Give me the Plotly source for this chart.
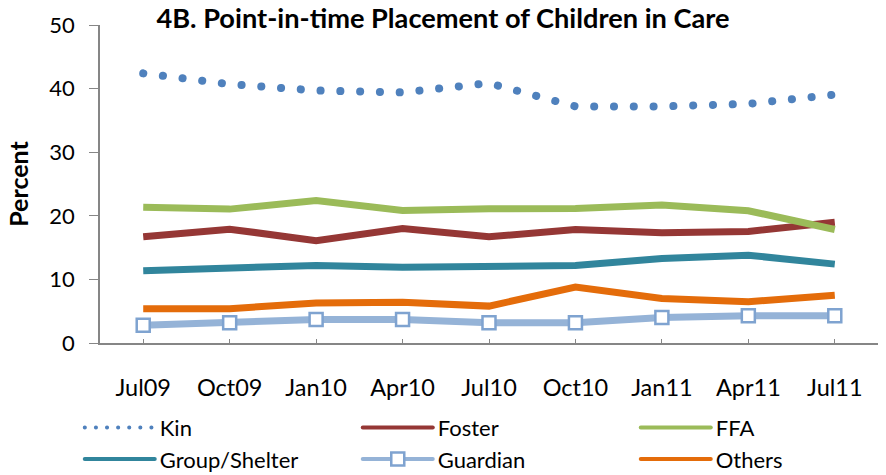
import plotly.graph_objects as go

# Quarterly snapshot dates
quarters = ["Jul09", "Oct09", "Jan10", "Apr10", "Jul10", "Oct10", "Jan11", "Apr11", "Jul11"]

# Percent of children in care by placement type
kin = [42.4, 40.7, 39.7, 39.4, 40.85, 37.2, 37.2, 37.6, 39.05]
foster = [16.7, 17.9, 16.1, 18.0, 16.7, 17.85, 17.35, 17.55, 19.0]
ffa = [21.35, 21.05, 22.4, 20.85, 21.1, 21.15, 21.7, 20.8, 17.85]
group_shelter = [11.35, 11.9, 12.2, 11.9, 12.1, 12.2, 13.3, 13.8, 12.4]
guardian = [2.8, 3.2, 3.7, 3.7, 3.2, 3.2, 4.0, 4.3, 4.3]
others = [5.4, 5.4, 6.3, 6.4, 5.8, 8.8, 7.0, 6.5, 7.5]

FONT = "Lato"
LW = 7

fig = go.Figure()
fig.add_trace(go.Scatter(x=quarters, y=kin, name="Kin", mode="lines",
                         line=dict(color="#4F81BD", width=8, dash="8px,11.7px")))
fig.add_trace(go.Scatter(x=quarters, y=foster, name="Foster", mode="lines",
                         line=dict(color="#953735", width=LW)))
fig.add_trace(go.Scatter(x=quarters, y=ffa, name="FFA", mode="lines",
                         line=dict(color="#9BBB59", width=LW)))
fig.add_trace(go.Scatter(x=quarters, y=group_shelter, name="Group/Shelter", mode="lines",
                         line=dict(color="#31859C", width=LW)))
fig.add_trace(go.Scatter(x=quarters, y=guardian, name="Guardian", mode="lines+markers",
                         line=dict(color="#95B3D7", width=LW),
                         marker=dict(symbol="square", size=13, color="white",
                                     line=dict(color="#7FA3D0", width=2.5))))
fig.add_trace(go.Scatter(x=quarters, y=others, name="Others", mode="lines",
                         line=dict(color="#E46C0A", width=LW)))

fig.update_layout(
    width=886, height=475,
    margin=dict(l=100, r=8, t=25, b=132, autoexpand=False),
    paper_bgcolor="white", plot_bgcolor="white",
    font=dict(family=FONT, size=22, color="black"),
    title=dict(text="<b>4B. Point-in-time Placement of Children in Care</b>",
               x=0.5, xanchor="center", y=0.962, yanchor="middle",
               font=dict(family=FONT, size=27.2, color="black")),
    showlegend=True,
    legend=dict(orientation="h", x=-0.026, xanchor="left", y=-0.2, yanchor="top",
                entrywidth=193, entrywidthmode="pixels", itemwidth=70,
                font=dict(family=FONT, size=22), tracegroupgap=0),
)
fig.update_xaxes(type="category", range=[-0.5, 8.5], showline=True, linecolor="#868686",
                 linewidth=1.5, ticks="inside", ticklen=4, tickcolor="#868686",
                 showgrid=False, zeroline=False, ticklabelstandoff=23,
                 tickfont=dict(family=FONT, size=23.5))
fig.update_yaxes(range=[0, 50], dtick=10, showline=True, linecolor="#868686",
                 linewidth=1.5, ticks="outside", ticklen=9, tickcolor="#868686",
                 showgrid=False, zeroline=False, ticklabelstandoff=10,
                 tickfont=dict(family=FONT, size=22),
                 title=dict(text="<b>Percent</b>", standoff=14,
                            font=dict(family=FONT, size=25)))

post = """
var gd = document.getElementsByClassName('plotly-graph-div')[0];
function restyleLines() {
  var kinLine = gd.querySelector('.scatterlayer .trace path.js-line');
  if (kinLine) { kinLine.style.strokeLinecap = 'round'; kinLine.style.strokeDasharray = '0.1px,19.7px'; }
  var legendLines = gd.querySelectorAll('.legend .traces path.js-line');
  legendLines.forEach(function (p, i) {
    p.style.strokeWidth = '4px';
    p.style.strokeLinecap = 'round';
    if (i === 0) { p.style.strokeDasharray = '0.1px,11px'; }
  });
}
restyleLines();
"""
fig.write_html("out.html", post_script=post)
